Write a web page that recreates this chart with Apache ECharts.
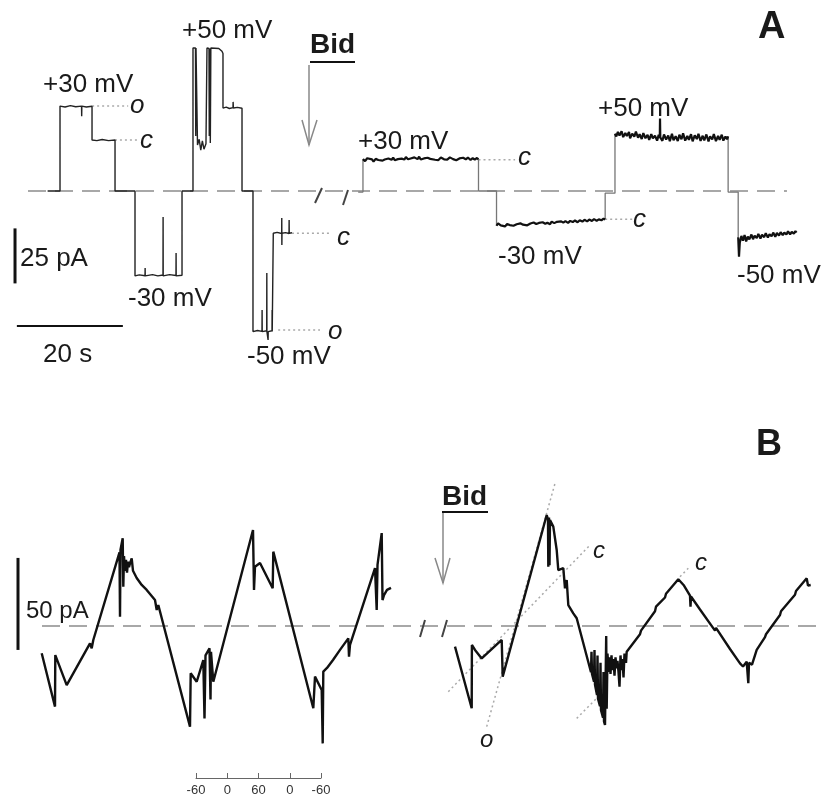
<!DOCTYPE html>
<html><head><meta charset="utf-8">
<script src="https://cdn.jsdelivr.net/npm/echarts@6/dist/echarts.min.js"></script>
<style>html,body{margin:0;padding:0;background:#fff}#c{width:822px;height:802px}</style>
</head><body><div id="c"></div>
<script>
// ---------- Panel A : time (s) vs current (pA) ----------
const aBaseline = [[0,0],[143.2,0]];
const aBefore = [[3.7,0],[6.04,0],[6.04,38.6],[7.0,38.2],[8.0,38.8],[9.0,38.3],[10.1,38.6],[10.13,34.0],[10.16,38.6],[11.0,38.2],[12.08,38.5],[12.08,23.2],[13.0,22.9],[14.0,23.4],[15.2,22.9],[16.42,23.2],[16.42,0],[20.19,0],[20.19,-38.6],[21.0,-38.1],[22.08,-38.5],[22.1,-35.0],[22.12,-38.6],[23.5,-38.0],[24.5,-38.6],[25.47,-38.2],[25.49,-11.8],[25.51,-38.6],[26.7,-38.0],[27.92,-38.4],[27.94,-28.2],[27.96,-38.6],[29.06,-38.3],[29.06,0],[31.13,0],[31.13,65],[31.6,65],[31.65,25],[31.7,65],[31.89,64.5],[31.98,20.9],[32.3,23.5],[32.6,18.6],[32.9,22.8],[33.2,19.0],[33.58,21.5],[33.77,65],[34.15,64.8],[34.2,25],[34.25,64.8],[34.34,65],[34.4,21.8],[34.5,65],[36.0,64.8],[36.6,63.5],[36.79,62.5],[36.79,37.7],[37.4,38.1],[38.0,37.5],[38.68,37.9],[38.7,40.5],[38.75,37.7],[39.5,38.0],[40.38,37.6],[40.38,0],[42.45,0],[42.45,-63.9],[43.3,-63.4],[44.15,-63.8],[44.17,-54.1],[44.19,-63.9],[45.04,-63.5],[45.06,-37.3],[45.08,-63.9],[45.28,-63.9],[45.3,-67.7],[45.32,-63.9],[46.04,-63.5],[46.06,-54.1],[46.08,-63.9],[46.28,-63.9],[46.28,-19.2],[47.0,-18.8],[47.87,-19.3],[47.88,-12.3],[47.9,-24.5],[47.92,-19.2],[48.6,-18.9],[49.25,-19.3],[49.27,-13.2],[49.29,-19.2],[49.81,-19.0]];
const aAfterP30 = [[63.2,14.5],[63.6,13.6],[64.0,14.9],[64.3,14.0],[64.9,14.4],[65.2,13.4],[65.6,14.6],[66.1,14.1],[66.4,15.0],[66.9,13.8],[67.3,14.3],[67.5,13.7],[68.0,14.8],[68.6,14.2],[68.9,15.2],[69.2,14.0],[69.8,14.5],[70.1,13.6],[70.5,14.7],[71.0,14.3],[71.3,15.4],[71.7,14.4],[72.2,14.8],[72.4,13.9],[72.9,15.3],[73.5,14.5],[73.8,15.6],[74.1,14.3],[74.7,14.8],[75.0,14.1],[75.4,15.1],[75.9,14.6],[76.2,15.5],[76.8,14.2],[77.1,14.9],[77.4,14.0],[77.9,15.2],[78.5,14.4],[78.8,15.0],[79.1,14.3],[79.6,15.3],[80.2,14.5],[80.5,15.0],[80.8,14.0],[81.4,14.8],[81.7,14.2],[82.1,15.1],[82.6,14.4],[83.0,15.2],[83.5,14.1],[83.9,14.9],[84.3,14.3],[84.7,15.0],[85.0,14.4]];
const aAfterM30 = [[88.4,-15.8],[88.7,-14.7],[89.2,-15.6],[89.5,-14.9],[90.0,-16.1],[90.4,-15.0],[90.9,-15.5],[91.1,-14.6],[91.6,-15.8],[92.2,-15.1],[92.5,-15.9],[92.9,-14.7],[93.4,-15.3],[93.7,-14.5],[94.2,-15.6],[94.8,-14.8],[95.1,-15.3],[95.4,-14.3],[95.9,-15.0],[96.4,-14.5],[96.7,-15.4],[97.1,-14.2],[97.6,-14.9],[98.0,-14.4],[98.5,-15.1],[98.8,-13.9],[99.3,-14.6],[99.8,-14.0],[100.1,-14.8],[100.6,-13.8],[101.0,-14.4],[101.4,-13.7],[101.9,-14.5],[102.3,-13.6],[102.8,-14.1],[103.2,-13.4],[103.7,-14.2],[104.1,-13.3],[104.6,-13.9],[105.0,-13.1],[105.5,-13.8],[105.9,-13.0],[106.4,-13.6],[106.8,-12.8],[107.3,-13.5],[107.7,-12.9],[108.2,-13.3],[108.6,-12.6],[108.9,-12.9]];
const aAfterP50 = [[110.75,26.0],[111.0,24.8],[111.3,26.9],[111.6,25.2],[112.0,27.2],[112.3,24.5],[112.7,26.4],[113.0,25.0],[113.4,26.8],[113.6,23.9],[114.0,26.1],[114.4,24.7],[114.7,27.0],[115.1,24.2],[115.4,25.8],[115.8,23.6],[116.1,26.3],[116.5,24.0],[116.9,25.5],[117.2,23.2],[117.6,25.9],[117.9,23.9],[118.3,25.1],[118.7,22.9],[119.0,25.6],[119.2,24.1],[119.25,33.0],[119.3,24.4],[119.7,22.8],[120.0,25.7],[120.4,23.4],[120.8,25.2],[121.1,22.6],[121.5,26.0],[121.8,23.1],[122.2,24.9],[122.6,22.7],[122.9,25.6],[123.3,23.5],[123.6,26.2],[124.0,22.9],[124.4,25.0],[124.7,23.3],[125.1,25.8],[125.4,22.6],[125.8,25.3],[126.2,23.6],[126.5,26.0],[126.9,22.8],[127.3,25.1],[127.6,23.0],[128.0,25.7],[128.4,22.5],[128.7,24.9],[129.1,23.4],[129.4,25.9],[129.8,22.7],[130.2,25.0],[130.5,23.2],[130.9,25.6],[131.2,22.9],[131.6,24.8],[131.9,23.5],[132.1,24.8]];
const aAfterM50 = [[134.0,-21.0],[134.15,-29.9],[134.3,-23.5],[134.6,-20.4],[134.9,-22.6],[135.2,-20.0],[135.5,-22.9],[135.8,-20.7],[136.1,-22.0],[136.5,-19.8],[136.8,-21.9],[137.1,-20.3],[137.5,-21.4],[137.8,-19.5],[138.2,-21.6],[138.5,-19.9],[138.9,-21.0],[139.2,-19.2],[139.6,-21.1],[139.9,-19.7],[140.3,-20.6],[140.6,-18.9],[141.0,-20.8],[141.3,-19.1],[141.7,-20.3],[142.0,-18.7],[142.4,-20.1],[142.7,-18.9],[143.1,-19.8],[143.4,-18.3],[143.8,-19.7],[144.1,-18.6],[144.5,-19.4],[144.8,-18.2],[145.0,-18.9]];
const aAfterJumps = [
  [[62.3,-0.5],[63.2,-0.5],[63.2,14.5]],
  [[85.0,14.4],[85.0,0],[88.4,0],[88.4,-15.8]],
  [[108.9,-12.9],[108.9,-1],[110.75,-1],[110.75,26.0]],
  [[132.1,24.8],[132.1,-0.5],[134.0,-0.5],[134.0,-21.0]]
];
const aGuides = [
  [[12.1,38.6],[18.9,38.6]],
  [[16.4,23.2],[20.6,23.2]],
  [[49.8,-19.2],[57.0,-19.2]],
  [[47.2,-63.2],[55.1,-63.2]],
  [[85.0,14.2],[91.9,14.2]],
  [[108.9,-12.8],[114.0,-12.8]]
];
const aBarCurrent = [[-2.45,-17],[-2.45,-42]];   // 25 pA
const aBarTime = [[-2.1,-61.4],[17.9,-61.4]];     // 20 s

// ---------- Panel B : ramp time vs current (pA) ----------
const bBaseline = [[42,0],[820,0]];
const bBefore = [[41.7,-14.8],[55,-43.8],[55.3,-15.8],[66.7,-32.1],[90,-9.4],[91.7,-12.1],[93.3,-7.6],[119.5,40],[120,5.1],[120.5,41.5],[122.7,47.7],[123.3,21.4],[124,38],[125,30],[126,36],[127,29],[128,35],[129,32],[130,34],[131.7,36.8],[133,30],[136.7,26.1],[141.7,22.3],[146.7,19.6],[155,14.1],[156.7,8.7],[158.3,11.4],[190,-54.7],[190.7,-25.7],[196.7,-30.3],[203.3,-18.5],[204.5,-50.2],[205.5,-16],[209.5,-12.1],[210.5,-40],[211,-14],[213.3,-30.3],[253,52.2],[254,19.6],[255,32.2],[260,34.2],[272.7,20.5],[273.3,40.4],[313.3,-44.7],[315,-27.5],[321.7,-34.8],[322.7,-63.8],[323.3,-24.8],[327,-22.8],[333,-18.5],[340,-13.0],[348.3,-6.7],[349,-16.7],[350,-10.3],[375,31.5],[376.7,8.7],[377.5,33.2],[381.7,50.5],[382.5,14.1],[384,16.8],[387,19.6],[391,20.7]];
const bAfter = [[455,-11.2],[471.7,-44.7],[471.9,-10.3],[475,-13.0],[481.7,-17.6],[501.7,-7.6],[502.7,-27.5],[546.7,60.3],[548,58],[548.3,32.2],[549,59],[549.5,33],[550,57.6],[553.3,54.0],[556.7,41.3],[558.3,30.4],[563.3,31.4],[565,20.5],[566.7,25.0],[568.3,11.4],[573.3,6.9],[576.7,4.2],[591,-25.1],[591.5,-14],[592,-26.1],[594,-30.2],[594.5,-13],[595,-32],[597,-37.5],[597.5,-16],[598,-39.5],[600,-43.6],[600.5,-20],[601,-45.7],[603,-49.8],[603.5,-25],[604,-51.8],[605,-53.8],[606.2,-5.5],[606.7,-45],[607.5,-15],[608.5,-25],[609.5,-17],[610.5,-26],[611.5,-16],[612.5,-24],[613.5,-18],[614.5,-27],[615.5,-17],[616.5,-23],[617.5,-19],[618.5,-25],[619.5,-33],[620.5,-16],[621.5,-24],[622.5,-18],[623.5,-28],[624.5,-15],[626,-20],[626.7,-14],[640,-4.5],[641,-2.5],[655,8],[656,10.5],[665,15.5],[666,17.5],[678.3,25.4],[684,22],[690,16.5],[690.5,10.5],[691,16],[700,9],[715,-2.5],[716,-1],[730,-12.5],[740,-20.3],[743,-22],[746.7,-19.4],[748.3,-31.1],[749,-20],[752,-21],[756.7,-13],[765,-6],[766,-4.5],[780,6],[781,8],[795,17],[796,19],[806.7,25.9],[808,22],[810.7,22.3]];
const bGuides = [
  [[486.7,-54.7],[555,77.5]],
  [[448.3,-35.7],[590,44.0]],
  [[576.7,-50.2],[598.3,-38.4]],
  [[680,26.8],[688.3,31.4]]
];
const bBarCurrent = [[18,-13],[18,37]];   // 50 pA
const voltTicks = ['-60','0','60','0','-60'];

// ---------- build ----------
const FONT = '"Liberation Sans", Arial, sans-serif';
function line(data, xi, color, width, type) {
  return {type:'line', xAxisIndex:xi, yAxisIndex:xi, data:data, showSymbol:false, symbol:'none',
    silent:true, animation:false, clip:false,
    lineStyle:{color:color, width:width, type:type||'solid'}};
}
const series = [];
series.push(line(aBaseline,0,'#8c8c8c',1.5,[18,9]));
aGuides.forEach(g=>series.push(line(g,0,'#aaaaaa',1.5,[2,3])));
series.push(line(aBefore,0,'#222',1.4));
aAfterJumps.forEach(g=>series.push(line(g,0,'#777',1.3)));
[aAfterP30,aAfterM30,aAfterP50,aAfterM50].forEach(g=>series.push(line(g,0,'#111',2.2)));
series.push(line(aBarCurrent,0,'#111',3));
series.push(line(aBarTime,0,'#111',2));
series.push(line(bBaseline,1,'#8c8c8c',1.5,[18,9]));
bGuides.forEach(g=>series.push(line(g,1,'#aaaaaa',1.5,[2,3])));
series.push(line(bBefore,1,'#111',2.4));
series.push(line(bAfter,1,'#111',2.4));
series.push(line(bBarCurrent,1,'#111',3));

function txt(x,y,s,size,opts){
  opts=opts||{};
  const f=(opts.italic?'italic ':'')+(opts.bold?'bold ':'')+size+'px '+FONT;
  return {type:'text', silent:true, z:100, style:{x:x,y:y,text:s,font:f,fill:opts.color||'#1a1a1a',
    align:opts.align||'left', verticalAlign:'middle', textAlign:opts.align||'left', textVerticalAlign:'middle'}};
}
function seg(x1,y1,x2,y2,c,w){return {type:'line',silent:true,z:100,shape:{x1:x1,y1:y1,x2:x2,y2:y2},style:{stroke:c,lineWidth:w}};}
function poly(pts,c,w){return {type:'polyline',silent:true,z:100,shape:{points:pts},style:{stroke:c,lineWidth:w,fill:null}};}

const graphic = [
  txt(43,85,'+30 mV',26), txt(182,31,'+50 mV',26), txt(128,299,'-30 mV',26), txt(247,357,'-50 mV',26),
  txt(130,106,'o',26,{italic:true}), txt(140,141,'c',26,{italic:true}),
  txt(337,238,'c',26,{italic:true}), txt(328,332,'o',26,{italic:true}),
  txt(310,45,'Bid',28,{bold:true}), seg(310,62,355,62,'#111',2),
  seg(309,65,309,145,'#888',1.5), poly([[302,120],[309,145],[317,120]],'#888',1.5),
  txt(758,28,'A',38,{bold:true}),
  txt(20,259,'25 pA',26), txt(43,355,'20 s',26),
  txt(358,142,'+30 mV',26), txt(598,109,'+50 mV',26), txt(498,257,'-30 mV',26), txt(737,276,'-50 mV',26),
  txt(518,158,'c',26,{italic:true}), txt(633,220,'c',26,{italic:true}),
  seg(315,203,322,188,'#444',2), seg(343,205,348,190,'#444',2),
  txt(756,445,'B',36,{bold:true}),
  txt(442,497,'Bid',28,{bold:true}), seg(442,512,488,512,'#111',2),
  seg(443,513,443,583,'#888',1.5), poly([[435,558],[443,583],[450,558]],'#888',1.5),
  txt(26,611,'50 pA',24),
  txt(480,740,'o',24,{italic:true}), txt(593,551,'c',24,{italic:true}), txt(695,563,'c',24,{italic:true}),
  seg(420,637,425,620,'#444',2), seg(442,637,447,620,'#444',2)
];

const chart = echarts.init(document.getElementById('c'), null, {renderer:'canvas'});
chart.setOption({
  animation:false,
  backgroundColor:'#fff',
  grid:[
    {left:1.5, top:26, width:810.9, height:319},
    {left:0, top:478.8, width:822, height:312.8},
    {left:196, top:777, width:125, height:1}
  ],
  xAxis:[
    {gridIndex:0, type:'value', min:-5, max:148, show:false},
    {gridIndex:1, type:'value', min:0, max:822, show:false},
    {gridIndex:2, type:'value', min:0, max:4, interval:1,
     axisLine:{show:true, lineStyle:{color:'#666', width:1}},
     axisTick:{show:true, inside:true, length:5, lineStyle:{color:'#666'}},
     splitLine:{show:false},
     axisLabel:{margin:6, fontSize:13, color:'#333', fontFamily:FONT, formatter:v=>voltTicks[Math.round(v)]}}
  ],
  yAxis:[
    {gridIndex:0, type:'value', min:-70, max:75, show:false},
    {gridIndex:1, type:'value', min:-90, max:80, show:false},
    {gridIndex:2, type:'value', min:0, max:1, show:false}
  ],
  series:series,
  graphic:graphic
});
</script>
</body></html>
